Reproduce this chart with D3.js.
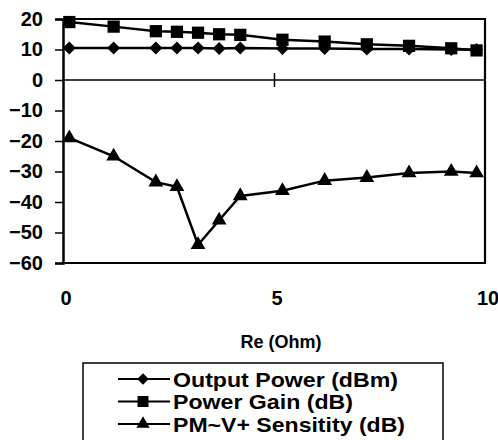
<!DOCTYPE html>
<html>
<head>
<meta charset="utf-8">
<script src="https://cdn.jsdelivr.net/npm/d3@7"></script>
<style>
  body { margin: 0; background: #fff; }
  svg { display: block; font-family: "Liberation Sans", Arial, sans-serif; }
</style>
</head>
<body>
<svg id="svg" width="498" height="440"></svg>
<script>
// Re values (Ohm) shared by all three series
const re = [0.15, 1.2, 2.2, 2.7, 3.2, 3.7, 4.2, 5.2, 6.2, 7.2, 8.2, 9.2, 9.8];
const outputPower = [10.5, 10.5, 10.5, 10.5, 10.5, 10.3, 10.5, 10.3, 10.3, 10.2, 10.2, 10, 10];
const powerGain = [19, 17.5, 16, 15.8, 15.5, 15, 14.8, 13.2, 12.6, 11.7, 11.2, 10.4, 9.7];
const pmSensitivity = [-19, -25, -33.5, -35, -54, -46, -38, -36.3, -33, -32, -30.5, -30, -30.5];

const seriesNames = ['Output Power (dBm)', 'Power Gain (dB)', 'PM~V+ Sensitity (dB)'];
const yTicks = [-60, -50, -40, -30, -20, -10, 0, 10, 20];
const xTicks = [0, 5, 10];

const svg = d3.select('#svg');
const area = {left: 63, right: 485, top: 19, bottom: 263};

const x = d3.scaleLinear().domain([0, 10]).range([area.left, area.right]);
const y = d3.scaleLinear().domain([-60, 20]).range([area.bottom, area.top]);

// frame (top, right, bottom)
svg.append('path')
    .attr('d', `M${area.left},${area.top}H${area.right}V${area.bottom}H${area.left}`)
    .attr('fill', 'none')
    .attr('stroke', '#000')
    .attr('stroke-width', 2.2);

// zero line + tick at 5
svg.append('line')
    .attr('x1', area.left).attr('x2', area.right)
    .attr('y1', y(0)).attr('y2', y(0))
    .attr('stroke', '#000').attr('stroke-width', 1.5);

const xAxis = svg.append('g')
    .attr('transform', 'translate(0,' + (y(0) - 7) + ')')
    .call(d3.axisBottom(x).tickValues([5]).tickSize(14).tickFormat(''));
xAxis.select('.domain').remove();
xAxis.selectAll('line').attr('stroke-width', 1.5);

// y axis
const yAxis = svg.append('g')
    .attr('transform', 'translate(' + area.left + ',0)')
    .call(d3.axisLeft(y).tickValues(yTicks).tickSize(8).tickPadding(12));
yAxis.select('.domain').attr('stroke-width', 2.5);
yAxis.selectAll('line').attr('stroke-width', 1.5);
yAxis.selectAll('text')
    .attr('font-size', 20)
    .attr('font-weight', 'bold')
    .attr('font-family', '"Liberation Sans", Arial, sans-serif');

// x tick labels
svg.selectAll('.xlab').data(xTicks).enter()
    .append('text')
    .attr('class', 'xlab')
    .attr('x', d => x(d) + 3)
    .attr('y', 305)
    .attr('text-anchor', 'middle')
    .attr('font-size', 20)
    .attr('font-weight', 'bold')
    .text(d => d);

svg.append('text')
    .attr('x', 281)
    .attr('y', 348)
    .attr('text-anchor', 'middle')
    .attr('font-size', 18)
    .attr('font-weight', 'bold')
    .text('Re (Ohm)');

// series: diamond = rotated square
const sym = [d3.symbolSquare, d3.symbolSquare, d3.symbolTriangle];
const symRot = [45, 0, 0];
const symSize = [85, 150, 95];
const allSeries = [outputPower, powerGain, pmSensitivity];

const line = d3.line().x(d => x(d[0])).y(d => y(d[1]));

allSeries.forEach((vals, k) => {
    const pts = re.map((r, i) => [r, vals[i]]);
    const g = svg.append('g');
    g.append('path')
        .datum(pts)
        .attr('d', line)
        .attr('fill', 'none')
        .attr('stroke', '#000')
        .attr('stroke-width', 2.5);
    g.selectAll('path.m').data(pts).enter()
        .append('path')
        .attr('class', 'm')
        .attr('transform', d => 'translate(' + x(d[0]) + ',' + y(d[1]) + ') rotate(' + symRot[k] + ')')
        .attr('d', d3.symbol().type(sym[k]).size(symSize[k]))
        .attr('fill', '#000');
});

// legend
svg.append('rect')
    .attr('x', 83).attr('y', 363)
    .attr('width', 360).attr('height', 90)
    .attr('fill', 'none')
    .attr('stroke', '#000')
    .attr('stroke-width', 1.5);

const legWidths = [225, 180, 232];
seriesNames.forEach((name, k) => {
    const ly = 379 + k * 22.5;
    svg.append('line')
        .attr('x1', 118).attr('x2', 170)
        .attr('y1', ly).attr('y2', ly)
        .attr('stroke', '#000').attr('stroke-width', 2);
    svg.append('path')
        .attr('transform', 'translate(143,' + ly + ') rotate(' + symRot[k] + ')')
        .attr('d', d3.symbol().type(sym[k]).size(symSize[k] * 0.8))
        .attr('fill', '#000');
    svg.append('text')
        .attr('x', 173)
        .attr('y', ly + 7.5)
        .attr('font-size', 21)
        .attr('font-weight', 'bold')
        .attr('textLength', legWidths[k])
        .attr('lengthAdjust', 'spacingAndGlyphs')
        .text(name);
});
</script>
</body>
</html>
